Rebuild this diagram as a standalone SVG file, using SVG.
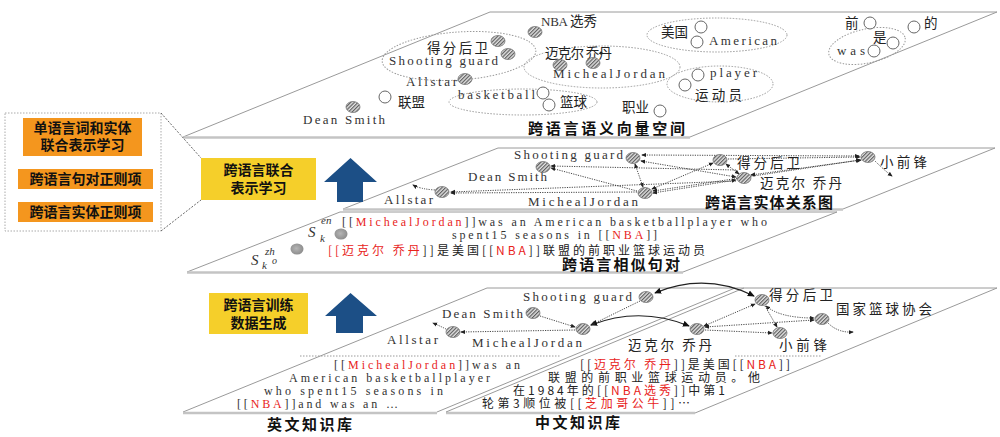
<svg xmlns="http://www.w3.org/2000/svg" width="1000" height="437" viewBox="0 0 1000 437">
<defs>
<pattern id="hatch" patternUnits="userSpaceOnUse" width="2.6" height="2.6" patternTransform="rotate(45)">
<rect width="2.6" height="2.6" fill="#e0e0e0"/>
<line x1="0.6" y1="0" x2="0.6" y2="2.6" stroke="#555" stroke-width="1.1"/>
</pattern>
<radialGradient id="gball" cx="0.45" cy="0.45" r="0.6">
<stop offset="0" stop-color="#b5b5b5"/><stop offset="1" stop-color="#8a8a8a"/>
</radialGradient>
<marker id="ah" viewBox="0 0 6 6" refX="5" refY="3" markerWidth="5" markerHeight="5" orient="auto-start-reverse" markerUnits="userSpaceOnUse">
<path d="M0,0.5 L6,3 L0,5.5 z" fill="#222"/>
</marker>
<marker id="as" viewBox="0 0 8 8" refX="7" refY="4" markerWidth="7" markerHeight="7" orient="auto-start-reverse" markerUnits="userSpaceOnUse">
<path d="M0,0.5 L8,4 L0,7.5 z" fill="#111"/>
</marker>
</defs>
<style>
.pl{fill:none;stroke:#9a9a9a;stroke-width:1}
.pb{fill:none;stroke:#c4c4c4;stroke-width:2.5}
.el{fill:none;stroke:#9a9a9a;stroke-width:1;stroke-dasharray:1.5 1.5}
.h{fill:url(#hatch);stroke:#777;stroke-width:0.8}
.o{fill:#fff;stroke:#666;stroke-width:1}
.g{fill:url(#gball);stroke:none}
.en{font-family:"Liberation Serif",serif;font-size:13px;fill:#333}
.es{font-family:"Liberation Serif",serif;font-size:12px;fill:#333}
.zh{font-family:"Noto Sans CJK SC","Liberation Sans",sans-serif;font-size:13.5px;fill:#222}
.zs{font-family:"Noto Sans CJK SC","Liberation Sans",sans-serif;font-size:12px;fill:#222}
.ti{font-family:"Noto Sans CJK SC","Liberation Sans",sans-serif;font-size:15px;font-weight:bold;fill:#111}
.bx{font-family:"Noto Sans CJK SC","Liberation Sans",sans-serif;font-size:14px;font-weight:bold;fill:#111;text-anchor:middle}
.r{fill:#e8231b}
.m{font-family:"Liberation Serif",serif;font-style:italic;fill:#333}
.d{fill:none;stroke:#333;stroke-width:0.9;stroke-dasharray:1.2 1.2;marker-end:url(#ah)}
.dd{fill:none;stroke:#333;stroke-width:0.9;stroke-dasharray:1.2 1.2;marker-end:url(#ah);marker-start:url(#ah)}
.s{fill:none;stroke:#222;stroke-width:1.2;marker-end:url(#as);marker-start:url(#as)}
.org{fill:#f4961e}
.yel{fill:#f5cf2a}
.arr{fill:#1c4f86}
</style>

<!-- ===== planes ===== -->
<g id="planes">
<path class="pl" d="M183,137 L490,12 L997,12 L690,137"/>
<line class="pb" x1="183" y1="137.5" x2="690" y2="137.5"/>
<path class="pl" d="M343,209 L498,148 L995,148 L843,209"/>
<line class="pb" x1="343" y1="209.5" x2="843" y2="209.5"/>
<path class="pl" d="M187,272 L340,212 L837,212 L683,272"/>
<line class="pb" x1="187" y1="272.5" x2="683" y2="272.5"/>
<path class="pl" d="M183,412 L487,288 L997,288 L695,413"/>
<line class="pb" x1="183" y1="413" x2="437" y2="413"/>
<line class="pb" x1="446" y1="413" x2="695" y2="413"/>
<line class="pl" x1="437" y1="412" x2="735" y2="288"/>
<line class="pl" x1="446" y1="412" x2="744" y2="288"/>
<line class="el" x1="300" y1="356" x2="560" y2="356"/>
<line class="el" x1="735" y1="356" x2="822" y2="356"/>
</g>

<!-- ===== left boxes ===== -->
<g id="legend">
<rect x="5" y="113" width="156" height="118" fill="#fff" stroke="#aaa" stroke-width="1" stroke-dasharray="1.5 1.5"/>
<line x1="161" y1="113" x2="201" y2="158" stroke="#555" stroke-width="0.9" stroke-dasharray="2 1.5"/>
<line x1="161" y1="231" x2="201" y2="200" stroke="#555" stroke-width="0.9" stroke-dasharray="2 1.5"/>
</g>
<g id="box-mono">
<rect class="org" x="23" y="118" width="119" height="38"/>
<text class="bx" x="82.5" y="133">单语言词和实体</text>
<text class="bx" x="82.5" y="150">联合表示学习</text>
</g>
<g id="box-sent">
<rect class="org" x="18" y="169" width="135" height="20"/>
<text class="bx" x="85.5" y="184">跨语言句对正则项</text>
</g>
<g id="box-ent">
<rect class="org" x="18" y="202" width="135" height="20"/>
<text class="bx" x="85.5" y="217">跨语言实体正则项</text>
</g>
<g id="box-joint">
<rect class="yel" x="201" y="158" width="115" height="42"/>
<text class="bx" x="258.5" y="175">跨语言联合</text>
<text class="bx" x="258.5" y="193">表示学习</text>
</g>
<g id="box-gen">
<rect class="yel" x="209" y="293" width="99" height="41"/>
<text class="bx" x="258.5" y="310">跨语言训练</text>
<text class="bx" x="258.5" y="328">数据生成</text>
</g>
<g id="arrow-up-1"><path class="arr" d="M350.5,158 L377,182 L363,182 L363,202 L337,202 L337,182 L324,182 z"/></g>
<g id="arrow-up-2"><path class="arr" d="M350.5,293 L377,316 L363,316 L363,333 L336,333 L336,316 L325,316 z"/></g>

<!-- ===== top plane: semantic vector space ===== -->
<g id="vector-space">
<ellipse class="el" cx="459" cy="56" rx="77" ry="24" transform="rotate(-4 459 56)"/>
<ellipse class="el" cx="602" cy="67" rx="78" ry="21"/>
<ellipse class="el" cx="523" cy="102" rx="74" ry="13"/>
<ellipse class="el" cx="717" cy="35" rx="70" ry="17"/>
<ellipse class="el" cx="720" cy="84" rx="53" ry="18"/>
<ellipse class="el" cx="867" cy="46" rx="39" ry="17" transform="rotate(-12 867 46)"/>

<text class="en" x="541" y="26" textLength="27" lengthAdjust="spacing">NBA</text>
<text class="zh" x="570" y="26">选秀</text>
<ellipse class="h" cx="535" cy="32" rx="7" ry="5.5"/>
<text class="zh" x="427" y="53" textLength="61" lengthAdjust="spacing">得分后卫</text>
<ellipse class="h" cx="498" cy="41" rx="7" ry="5.5"/>
<text class="en" x="389" y="65" textLength="109" lengthAdjust="spacing">Shooting guard</text>
<ellipse class="h" cx="508" cy="54" rx="7" ry="5.5"/>
<text class="en" x="406" y="86" textLength="51" lengthAdjust="spacing">Allstar</text>
<ellipse class="h" cx="465" cy="79" rx="7" ry="5.5"/>
<text class="en" x="458" y="99" textLength="77" lengthAdjust="spacing">basketball</text>
<circle class="o" cx="543" cy="93" r="6"/>
<circle class="o" cx="549" cy="105" r="6"/>
<text class="zh" x="560" y="107">篮球</text>
<circle class="o" cx="385" cy="97" r="6"/>
<text class="zh" x="398" y="107">联盟</text>
<ellipse class="h" cx="353" cy="107" rx="7" ry="5.5"/>
<text class="en" x="303" y="124" textLength="82" lengthAdjust="spacing">Dean Smith</text>
<text class="zh" x="545" y="58" textLength="67" lengthAdjust="spacing">迈克尔 乔丹</text>
<circle cx="601" cy="53" r="1.5" fill="#222"/>
<ellipse class="h" cx="560" cy="65" rx="7" ry="5.5"/>
<ellipse class="h" cx="593" cy="63" rx="7" ry="5.5"/>
<text class="en" x="553" y="78" textLength="112" lengthAdjust="spacing">MichealJordan</text>
<text class="zh" x="622" y="112">职业</text>
<circle class="o" cx="660" cy="111" r="6"/>
<text class="zh" x="661" y="37">美国</text>
<circle class="o" cx="701" cy="27" r="6"/>
<circle class="o" cx="697" cy="42" r="6"/>
<text class="en" x="709" y="45" textLength="68" lengthAdjust="spacing">American</text>
<circle class="o" cx="698" cy="75" r="6"/>
<text class="en" x="710" y="77" textLength="47" lengthAdjust="spacing">player</text>
<circle class="o" cx="685" cy="85" r="6"/>
<text class="zh" x="695" y="100" textLength="47" lengthAdjust="spacing">运动员</text>
<text class="zh" x="845" y="28">前</text>
<circle class="o" cx="870" cy="23" r="6"/>
<circle class="o" cx="914" cy="27" r="6"/>
<text class="zh" x="924" y="28">的</text>
<text class="zh" x="873" y="42">是</text>
<circle class="o" cx="893" cy="43" r="6"/>
<text class="en" x="837" y="55" textLength="28" lengthAdjust="spacing">was</text>
<circle class="o" cx="874" cy="51" r="6"/>
<text class="ti" x="528" y="134" textLength="157" lengthAdjust="spacing">跨语言语义向量空间</text>
</g>

<!-- ===== middle: entity relation graph ===== -->
<g id="kg-edges-mid">
<line class="dd" x1="642" y1="155" x2="859" y2="156"/>
<line class="dd" x1="641" y1="161" x2="736" y2="177"/>
<line class="dd" x1="635" y1="164" x2="643" y2="187"/>
<line class="dd" x1="652" y1="189" x2="713" y2="163"/>
<line class="dd" x1="653" y1="191" x2="860" y2="160"/>
<line class="dd" x1="653" y1="193" x2="736" y2="180"/>
<line class="dd" x1="726" y1="164" x2="739" y2="174"/>
<line class="d" x1="728" y1="159" x2="860" y2="157"/>
<line class="dd" x1="751" y1="175" x2="861" y2="160"/>
<line class="d" x1="736" y1="170" x2="551" y2="166"/>
<line class="d" x1="637" y1="191" x2="551" y2="168"/>
<line class="d" x1="736" y1="181" x2="451" y2="192"/>
<line class="d" x1="637" y1="192" x2="451" y2="193"/>
<path class="d" d="M435,190 Q420,189 413,185"/>
<path class="d" d="M875,161 Q884,170 892,176"/>
</g>
<g id="kg-nodes-mid">
<text class="en" x="514" y="159" textLength="109" lengthAdjust="spacing">Shooting guard</text>
<ellipse class="h" cx="633" cy="158" rx="7" ry="5.5"/>
<text class="en" x="468" y="181" textLength="79" lengthAdjust="spacing">Dean Smith</text>
<ellipse class="h" cx="543" cy="167" rx="7" ry="5.5"/>
<text class="en" x="384" y="204" textLength="49" lengthAdjust="spacing">Allstar</text>
<ellipse class="h" cx="442" cy="192" rx="7" ry="5.5"/>
<text class="en" x="528" y="206" textLength="110" lengthAdjust="spacing">MichealJordan</text>
<ellipse class="h" cx="645" cy="193" rx="7" ry="5.5"/>
<ellipse class="h" cx="720" cy="160" rx="7" ry="5.5"/>
<text class="zh" x="737" y="168" textLength="63" lengthAdjust="spacing">得分后卫</text>
<ellipse class="h" cx="744" cy="178" rx="7" ry="5.5"/>
<text class="zh" x="760" y="188" font-size="13" textLength="82" lengthAdjust="spacing">迈克尔 乔丹</text>
<ellipse class="h" cx="868" cy="157" rx="7" ry="5.5"/>
<text class="zh" x="880" y="167" textLength="47" lengthAdjust="spacing">小前锋</text>
<text class="ti" x="705" y="207.5" font-size="14.5" textLength="128" lengthAdjust="spacing">跨语言实体关系图</text>
</g>

<!-- ===== middle: similar sentence pairs ===== -->
<g id="sentence-pairs">
<text class="m" x="308" y="237" font-size="15">S<tspan font-size="11" x="321" y="224">en</tspan><tspan font-size="11" x="320" y="242">k</tspan></text>
<ellipse class="g" cx="341" cy="234" rx="6.5" ry="5.5"/>
<text class="m" x="251" y="265" font-size="15">S<tspan font-size="11" x="265" y="255">zh</tspan><tspan font-size="11" x="262" y="269">k</tspan><tspan font-size="10" x="272" y="264">o</tspan></text>
<ellipse class="g" cx="297" cy="249" rx="6.5" ry="5.5"/>
<text class="es" x="342" y="226" textLength="425" lengthAdjust="spacing">[[<tspan class="r">MichealJordan</tspan>]]was an American basketballplayer who</text>
<text class="es" x="452" y="239" textLength="205" lengthAdjust="spacing">spent15 seasons in [[<tspan class="r">NBA</tspan>]]</text>
<text class="zs" x="328" y="255" textLength="377" lengthAdjust="spacing"><tspan class="r">[[迈克尔 乔丹</tspan>]]是美国[[<tspan class="r">NBA</tspan>]]联盟的前职业篮球运动员</text>
<text class="ti" x="562" y="270" textLength="118" lengthAdjust="spacing">跨语言相似句对</text>
</g>

<!-- ===== bottom: KG from knowledge bases ===== -->
<g id="kg-edges-low">
<path class="s" d="M655,293 Q705,272 754,296"/>
<path class="s" d="M591,325 Q640,306 689,326"/>
<line class="d" x1="640" y1="301" x2="591" y2="325"/>
<line class="d" x1="540" y1="316" x2="575" y2="327"/>
<line class="d" x1="575" y1="330" x2="461" y2="332"/>
<path class="d" d="M446,329 Q440,326 433,323"/>
<line class="dd" x1="704" y1="326" x2="755" y2="304"/>
<line class="d" x1="705" y1="330" x2="772" y2="333"/>
<line class="d" x1="765" y1="306" x2="777" y2="327"/>
<path class="dd" d="M766,306 Q780,318 814,318"/>
<line class="dd" x1="705" y1="327" x2="814" y2="320"/>
<path class="d" d="M828,323 Q838,333 853,332"/>
</g>
<g id="kg-nodes-low">
<text class="en" x="523" y="301" textLength="109" lengthAdjust="spacing">Shooting guard</text>
<ellipse class="h" cx="646" cy="297" rx="7" ry="5.5"/>
<text class="en" x="442" y="318" textLength="81" lengthAdjust="spacing">Dean Smith</text>
<ellipse class="h" cx="533" cy="313" rx="7" ry="5.5"/>
<text class="en" x="387" y="344" textLength="51" lengthAdjust="spacing">Allstar</text>
<ellipse class="h" cx="453" cy="332" rx="7" ry="5.5"/>
<text class="en" x="472" y="347" textLength="110" lengthAdjust="spacing">MichealJordan</text>
<ellipse class="h" cx="583" cy="329" rx="7" ry="5.5"/>
<ellipse class="h" cx="762" cy="300" rx="7" ry="5.5"/>
<text class="zh" x="769" y="300" textLength="64" lengthAdjust="spacing">得分后卫</text>
<text class="zh" x="836" y="314" textLength="96" lengthAdjust="spacing">国家篮球协会</text>
<ellipse class="h" cx="822" cy="319" rx="7" ry="5.5"/>
<ellipse class="h" cx="697" cy="329" rx="7" ry="5.5"/>
<text class="zh" x="628" y="350" textLength="84" lengthAdjust="spacing">迈克尔 乔丹</text>
<ellipse class="h" cx="780" cy="333" rx="7" ry="5.5"/>
<text class="zh" x="779" y="350" textLength="48" lengthAdjust="spacing">小前锋</text>
</g>

<g id="kb-en">
<text class="es" x="334" y="369" textLength="186" lengthAdjust="spacing">[[<tspan class="r">MichealJordan</tspan>]]was an</text>
<text class="es" x="289" y="382" textLength="201" lengthAdjust="spacing">American basketballplayer</text>
<text class="es" x="264" y="395" textLength="179" lengthAdjust="spacing">who spent15 seasons in</text>
<text class="es" x="237" y="408" textLength="161" lengthAdjust="spacing">[[<tspan class="r">NBA</tspan>]]and was an …</text>
<text class="ti" x="267" y="430" textLength="85" lengthAdjust="spacing">英文知识库</text>
</g>
<g id="kb-zh">
<text class="zs" x="580" y="369" textLength="210" lengthAdjust="spacing">[[<tspan class="r">迈克尔 乔丹</tspan>]]是美国[[<tspan class="r">NBA</tspan>]]</text>
<text class="zs" x="548" y="382" textLength="212" lengthAdjust="spacing">联盟的前职业篮球运动员。他</text>
<text class="zs" x="513" y="395" textLength="212" lengthAdjust="spacing">在1984年的[[<tspan class="r">NBA选秀</tspan>]]中第1</text>
<text class="zs" x="482" y="408" textLength="208" lengthAdjust="spacing">轮第3顺位被[[<tspan class="r">芝加哥公牛</tspan>]]…</text>
<text class="ti" x="535" y="428" textLength="85" lengthAdjust="spacing">中文知识库</text>
</g>
</svg>
